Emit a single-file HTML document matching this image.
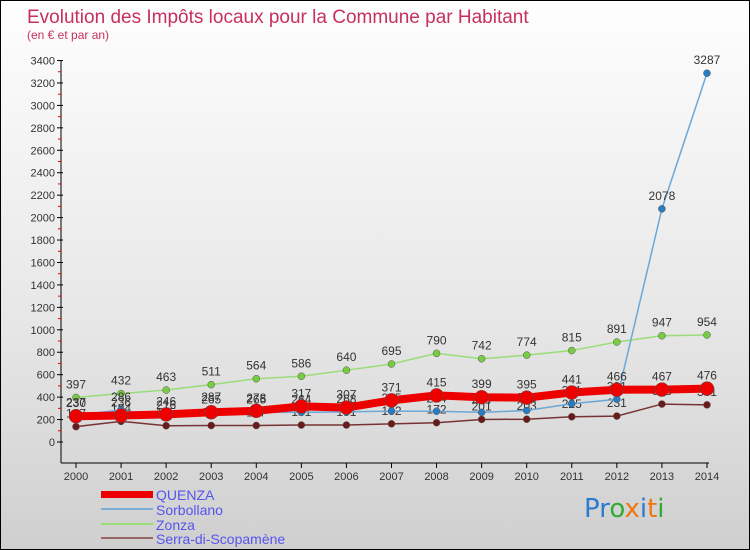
<!DOCTYPE html>
<html><head><meta charset="utf-8"><style>
body{margin:0;}
#c{width:750px;height:550px;position:relative;overflow:hidden;border:1px solid #000;box-sizing:border-box;background:linear-gradient(#fefefe,#e6e6e6 60%,#cfcfcf);font-family:"Liberation Sans","DejaVu Sans",sans-serif;}
</style></head><body>
<div id="c">
<svg width="750" height="550" id="svg">
<text x="26" y="22" font-size="19" fill="#c8305c">Evolution des Impôts locaux pour la Commune par Habitant</text>
<text x="26" y="38" font-size="12" fill="#c8305c">(en € et par an)</text>
<g id="axes"></g><g id="series"></g>
<g>
<rect x="100" y="490" width="52" height="7" fill="#ee0000"/>
<text x="155" y="499" font-size="14" fill="#5555ee">QUENZA</text>
<rect x="100" y="507" width="52" height="2" fill="#7aaed6"/>
<text x="155" y="514" font-size="14" fill="#5555ee">Sorbollano</text>
<rect x="100" y="522" width="52" height="2" fill="#99dd77"/>
<text x="155" y="529" font-size="14" fill="#5555ee">Zonza</text>
<rect x="100" y="536" width="52" height="2" fill="#996666"/>
<text x="155" y="543" font-size="14" fill="#5555ee">Serra-di-Scopamène</text>
</g>
<text x="583" y="516" font-size="26" font-family="DejaVu Sans"><tspan fill="#2a7cd0">Pr</tspan><tspan fill="#33aa33">o</tspan><tspan fill="#ee7711">x</tspan><tspan fill="#2a7cd0">i</tspan><tspan fill="#ee7711">t</tspan><tspan fill="#33aa33">i</tspan></text>
</svg>
</div>
<script>
const years=["2000","2001","2002","2003","2004","2005","2006","2007","2008","2009","2010","2011","2012","2013","2014"];
const yTicks=[0,200,400,600,800,1000,1200,1400,1600,1800,2000,2200,2400,2600,2800,3000,3200,3400];
const quenza=[230,236,246,265,278,317,307,371,415,399,395,441,466,467,476];
const sorbollano=[237,286,216,287,265,264,268,275,274,264,281,341,381,2078,3287];
const zonza=[397,432,463,511,564,586,640,695,790,742,774,815,891,947,954];
const serra=[137,184,145,147,147,151,151,162,172,201,203,225,231,338,331];
const NS="http://www.w3.org/2000/svg";
function X(i){return 75+i*45.07;}
function Y(v){return 441-v*0.1122;}
function mk(t,a,p){const e=document.createElementNS(NS,t);for(const k in a)e.setAttribute(k,a[k]);p.appendChild(e);return e;}
const ax=document.getElementById('axes');
let l=mk('line',{x1:60,y1:Y(3400),x2:60,y2:462,stroke:'#000'},ax);


l=mk('line',{x1:60,y1:462,x2:708,y2:462,stroke:'#000'},ax);


yTicks.forEach(v=>{
 mk('line',{x1:56,y1:Y(v),x2:62,y2:Y(v),stroke:'#000'},ax);
 if(v<3400) mk('line',{x1:57,y1:Y(v+100),x2:60,y2:Y(v+100),stroke:'#e00'},ax);
 const t=mk('text',{x:54,y:Y(v)+4,'font-size':11,'text-anchor':'end',fill:'#333'},ax);t.textContent=v;
 
 
});
years.forEach((y,i)=>{
 mk('line',{x1:X(i),y1:462,x2:X(i),y2:467,stroke:'#000'},ax);
 const t=mk('text',{x:X(i),y:479,'font-size':11,'text-anchor':'middle',fill:'#333'},ax);t.textContent=y;
 
 
});
const sg=document.getElementById('series');
function series(name,data,color,dot,w,r,labels){
 const g=mk('g',{},sg);
 
 
 const p=mk('polyline',{points:data.map((v,i)=>X(i)+','+Y(v)).join(' '),fill:'none',stroke:color,'stroke-width':w},g);
 
 
 data.forEach((v,i)=>{
  const c=mk('circle',{cx:X(i),cy:Y(v),r:r,fill:dot,stroke:'#555','stroke-width':0.5},g);
  
  
  if(labels){const t=mk('text',{x:X(i),y:Y(v)-9,'font-size':12,'text-anchor':'middle',fill:'#333'},g);t.textContent=v;
  
  }
 });
}
series('serra',serra,'#773333','#6a1a1a',1.5,3.5,true);
series('zonza',zonza,'#99dd77','#77cc44',1.5,3.5,true);
series('sorbollano',sorbollano,'#6aa8d8','#2a7cc0',1.5,3.5,true);
series('quenza',quenza,'#ee0000','#ee0000',8,7,true);
</script>
</body></html>
